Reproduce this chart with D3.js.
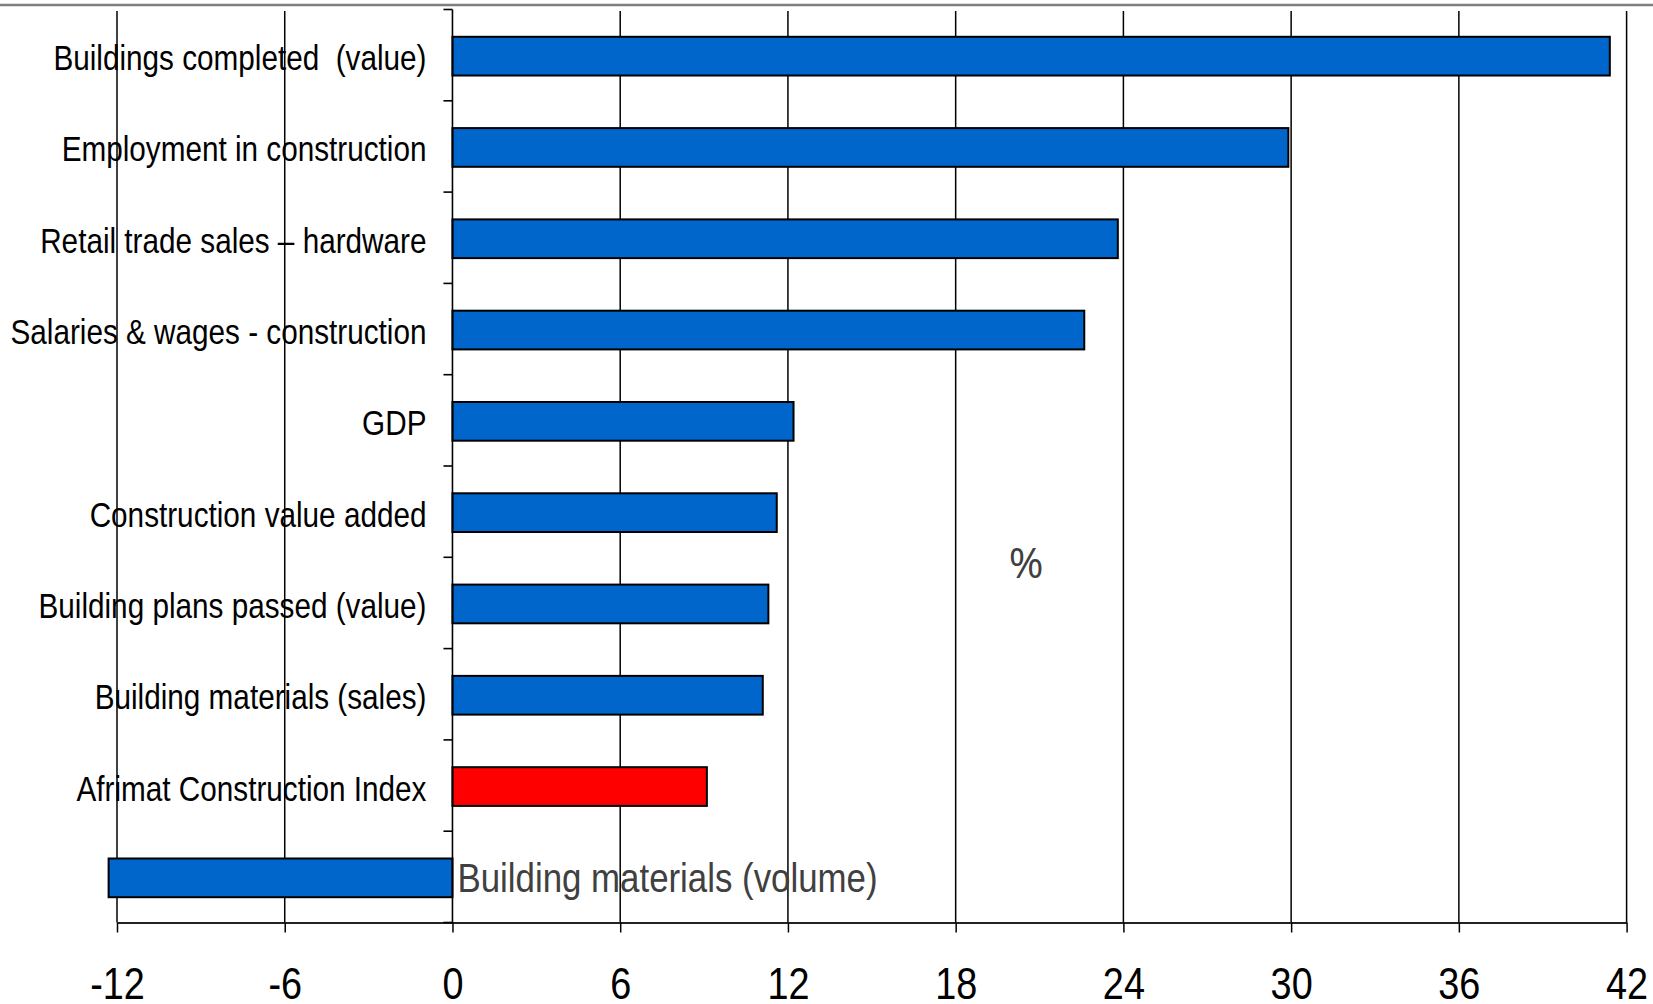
<!DOCTYPE html>
<html>
<head>
<meta charset="utf-8">
<script src="https://cdn.jsdelivr.net/npm/d3@7"></script>
<style>
  html, body { margin: 0; padding: 0; background: #fff; }
  svg { display: block; }
  text { white-space: pre; }
</style>
</head>
<body>
<script>
const categories = [
  "Buildings completed  (value)",
  "Employment in construction",
  "Retail trade sales \u2013 hardware",
  "Salaries & wages - construction",
  "GDP",
  "Construction value added",
  "Building plans passed (value)",
  "Building materials (sales)",
  "Afrimat Construction Index",
  "Building materials (volume)"
];
const values = [41.4, 29.9, 23.8, 22.6, 12.2, 11.6, 11.3, 11.1, 9.1, -12.3];
const highlighted = ["Afrimat Construction Index"];
const xTickValues = [-12, -6, 0, 6, 12, 18, 24, 30, 36, 42];
const unitLabel = "%";

const W = 1653, H = 1004;
const sans = "'Liberation Sans', Arial, sans-serif";

const svg = d3.select("body").append("svg").attr("width", W).attr("height", H);

const x = d3.scaleLinear().domain([-12, 42]).range([117, 1626.6]);
const y = d3.scaleBand().domain(categories).range([9.5, 922.5]).paddingInner(0.576).paddingOuter(0.288);
const step = y.step();

// top border line
svg.append("line").attr("x1", 0).attr("x2", W).attr("y1", 5).attr("y2", 5)
  .attr("stroke", "#7f7f7f").attr("stroke-width", 2.6);

// vertical gridlines
svg.append("g").selectAll("line").data(xTickValues.filter(d => d !== 0)).join("line")
  .attr("x1", d => x(d)).attr("x2", d => x(d))
  .attr("y1", 11).attr("y2", 922.5)
  .attr("stroke", "#000").attr("stroke-width", 1.5);

// x axis
const xAxis = d3.axisBottom(x).tickValues(xTickValues).tickSize(10).tickSizeOuter(0).tickFormat(d => String(d));
const gx = svg.append("g").attr("transform", "translate(0,922.5)").call(xAxis);
gx.select(".domain").attr("stroke", "#222").attr("stroke-width", 2.2);
gx.selectAll(".tick line").attr("stroke", "#000").attr("stroke-width", 1.5);
gx.selectAll(".tick text")
  .attr("y", 0).attr("dy", null)
  .attr("transform", "translate(0,76) scale(0.86,1)")
  .attr("font-family", sans).attr("font-size", 44).attr("fill", "#000");

// bars
svg.append("g").selectAll("rect").data(categories).join("rect")
  .attr("x", (d, i) => x(Math.min(0, values[i])))
  .attr("width", (d, i) => Math.abs(x(values[i]) - x(0)))
  .attr("y", d => y(d) + 1)
  .attr("height", y.bandwidth())
  .attr("fill", d => highlighted.includes(d) ? "#ff0000" : "#0066cc")
  .attr("stroke", "#000").attr("stroke-width", 2);

// category axis at zero
const boundaries = d3.range(categories.length + 1).map(i => 9.5 + i * step);
const gy = svg.append("g");
gy.append("line").attr("x1", x(0)).attr("x2", x(0)).attr("y1", 9.5).attr("y2", 922.5)
  .attr("stroke", "#000").attr("stroke-width", 1.6);
gy.selectAll("line.tk").data(boundaries).join("line").attr("class", "tk")
  .attr("x1", x(0) - 9).attr("x2", x(0)).attr("y1", d => d).attr("y2", d => d)
  .attr("stroke", "#000").attr("stroke-width", 1.6);

// category labels
const labelG = svg.append("g");
categories.forEach((c, i) => {
  const cy = y(c) + y.bandwidth() / 2;
  if (values[i] >= 0) {
    labelG.append("text").text(c)
      .attr("transform", `translate(${x(0) - 26},${cy + 15}) scale(0.825,1)`)
      .attr("text-anchor", "end")
      .attr("font-family", sans).attr("font-size", 36).attr("fill", "#000");
  } else {
    labelG.append("text").text(c)
      .attr("transform", `translate(${x(0) + 5},${cy + 15}) scale(0.85,1)`)
      .attr("text-anchor", "start")
      .attr("font-family", sans).attr("font-size", 41).attr("fill", "#404040");
  }
});

// unit label
svg.append("text").text(unitLabel)
  .attr("x", 1026).attr("y", 578)
  .attr("text-anchor", "middle")
  .attr("font-family", "'Open Sans', 'DejaVu Sans', sans-serif").attr("font-size", 42).attr("fill", "#404040");
</script>
</body>
</html>
